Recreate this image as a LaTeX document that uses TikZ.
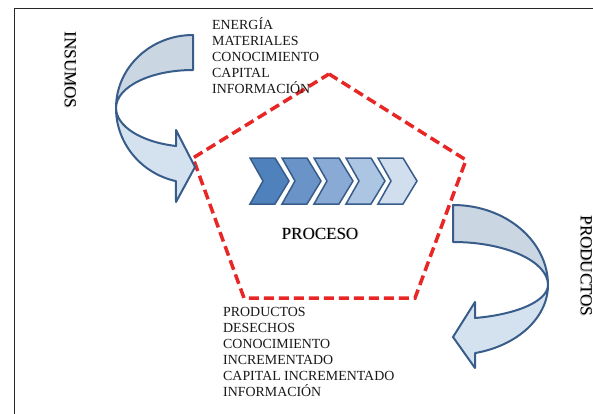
\documentclass[tikz,border=0pt]{standalone}
\usepackage{fontspec}
\setmainfont{Liberation Serif}
\newfontfamily\labelserif{Liberation Serif}
% soft grey drop shadow behind a word
\newcommand\dropshadowed[1]{\makebox[0pt][l]{\kern0.9pt\raisebox{-0.9pt}{\color{black!30}#1}}#1}
\definecolor{framegray}{RGB}{40,40,40}
\definecolor{dashred}{RGB}{232,38,38}
\definecolor{arrowline}{RGB}{56,93,138}
\definecolor{bandback}{RGB}{203,214,227}
\definecolor{bandfront}{RGB}{212,226,240}
\definecolor{chevA}{RGB}{79,129,189}
\definecolor{chevB}{RGB}{106,148,200}
\definecolor{chevC}{RGB}{137,170,212}
\definecolor{chevD}{RGB}{172,197,226}
\definecolor{chevE}{RGB}{208,222,238}
\begin{document}
\begin{tikzpicture}[x=1pt,y=-1pt,
  frameline/.style={draw=framegray, line width=1.5pt},
  band/.style={draw=arrowline, line width=2pt, line join=round},
  chevron/.style={draw=arrowline, line width=1.5pt, line join=miter},
  processline/.style={draw=dashred, line width=3.5pt, dash pattern=on 10pt off 5pt, line join=miter},
  listtext/.style={anchor=base west, inner sep=0pt, text=black!90, font=\labelserif\fontsize{13.9}{16}\selectfont},
  sidelabel/.style={inner sep=0pt, rotate=-90, font=\labelserif\fontsize{17}{20}\selectfont},
  titletext/.style={anchor=base, inner sep=0pt, font=\labelserif\fontsize{17}{20}\selectfont}]
\useasboundingbox (0,0) rectangle (593,414);
\clip (0,0) rectangle (593,414);
\fill[white] (0,0) rectangle (593,414);

% page frame (left and top edges)
\draw[frameline] (14.5,420) -- (14.5,8.5) -- (600,8.5);

% process boundary
\coordinate (pt) at (329,74);
\coordinate (pr) at (466,160);
\coordinate (pbr) at (415,298);
\coordinate (pbl) at (244,298);
\coordinate (pl) at (193,158);
\draw[processline] (pt) -- (pr) -- (pbr) -- (pbl) -- (pl) -- cycle;

% input arrow: back band, then front band with head
\path[band, fill=bandback] (193,35)
  arc[start angle=270, end angle=180, x radius=77, y radius=73]
  arc[start angle=180, end angle=270, x radius=77, y radius=38] -- cycle;
\path[band, fill=bandfront] (116,108)
  arc[start angle=180, end angle=102.8, x radius=77, y radius=75]
  -- (176,202) -- (195,167) -- (176,130) -- (176,146)
  arc[start angle=102.8, end angle=180, x radius=77, y radius=39] -- cycle;

% output arrow: back band, then front band with head
\path[band, fill=bandback] (453,205)
  arc[start angle=270, end angle=360, x radius=95, y radius=80]
  arc[start angle=0, end angle=-90, x radius=95, y radius=43] -- cycle;
\path[band, fill=bandfront] (548,285)
  arc[start angle=0, end angle=76.6, x radius=95, y radius=70]
  -- (475,368) -- (453,337) -- (475,302) -- (475,318)
  arc[start angle=76.6, end angle=0, x radius=95, y radius=34] -- cycle;

% chevron sequence
\foreach \i/\c in {0/chevA,1/chevB,2/chevC,3/chevD,4/chevE}
  \path[chevron, fill=\c] (250+32*\i,158) -- ++(25,0) -- ++(14,23)
    -- ++(-14,23) -- ++(-25,0) -- ++(13,-23) -- cycle;

% labels
\node[sidelabel] (insumos) at (70,70) {\dropshadowed{INSUMOS}};
\node[sidelabel] (productos) at (586,266) {\dropshadowed{PRODUCTOS}};
\node[titletext] (proceso) at (320,239) {\dropshadowed{PROCESO}};

% inputs list
\foreach \t [count=\k] in {ENERGÍA,MATERIALES,CONOCIMIENTO,CAPITAL,INFORMACIÓN}
  \node[listtext] (in\k) at (212,14+16*\k) {\t};

% outputs list
\foreach \t [count=\k] in {PRODUCTOS,DESECHOS,CONOCIMIENTO,INCREMENTADO,CAPITAL INCREMENTADO,INFORMACIÓN}
  \node[listtext] (out\k) at (223,300+16*\k) {\t};
\end{tikzpicture}
\end{document}
